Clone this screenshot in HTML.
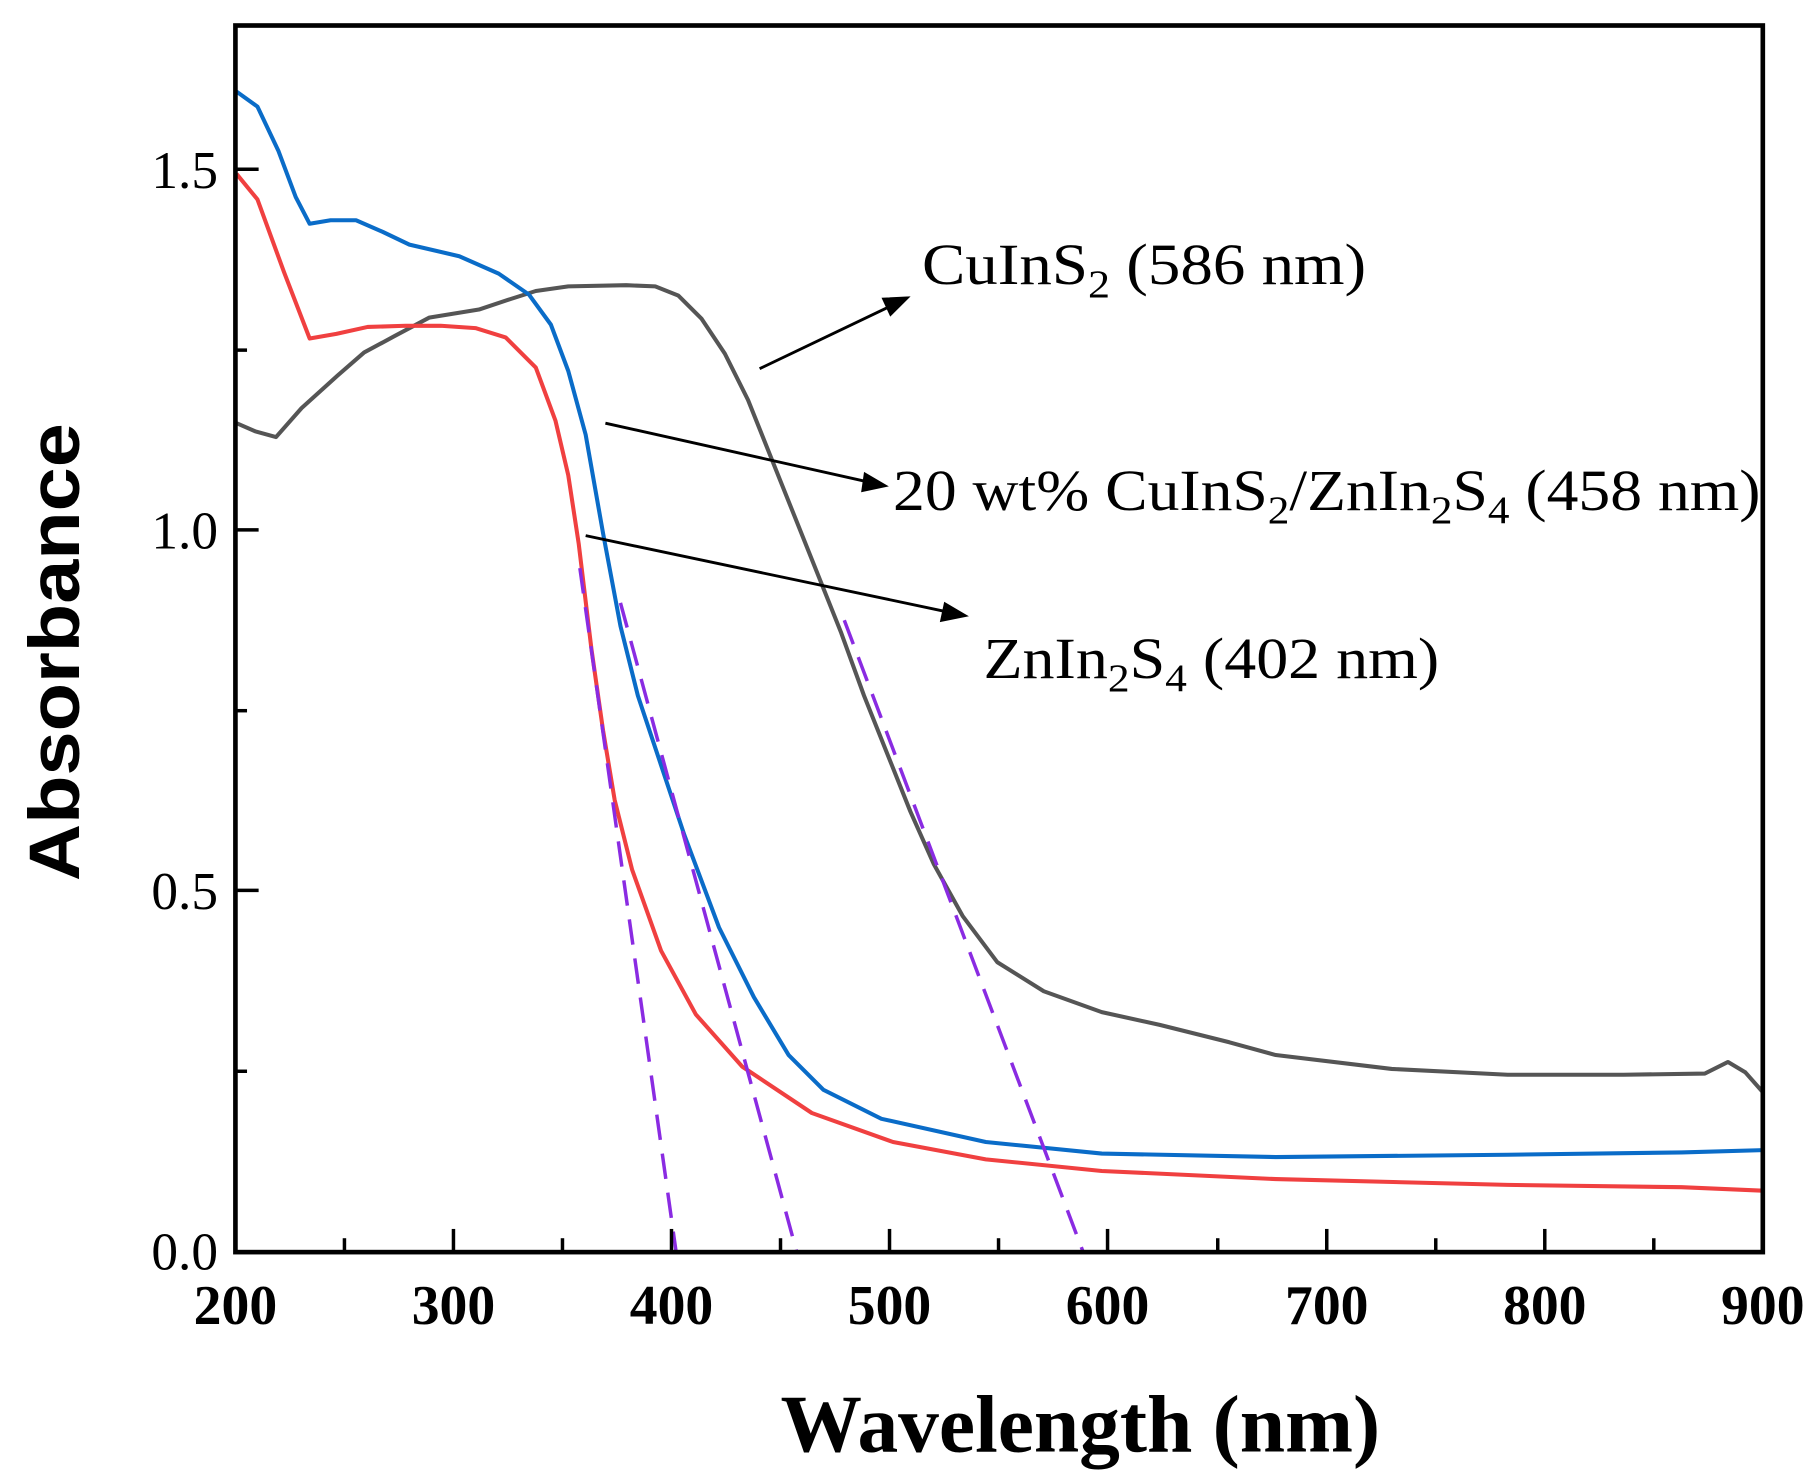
<!DOCTYPE html>
<html><head><meta charset="utf-8"><style>html,body{margin:0;padding:0;background:#fff}svg{display:block}</style></head><body>
<svg width="1815" height="1484" viewBox="0 0 1565 1280" preserveAspectRatio="none" xmlns="http://www.w3.org/2000/svg">
<g fill="none" stroke-width="3.5" stroke-linejoin="round">
<path stroke="#555" d="M204,365 L220,372 L238,377 L260,352 L291,324 L314,304 L340,290 L370,274 L413,267 L440,258 L462,251 L490,247 L540,246 L565,247 L585,255 L605,275 L625,305 L645,345 L665,395 L685,445 L705,495 L725,545 L745,600 L765,650 L785,700 L805,745 L830,790 L860,830 L900,855 L950,873 L1000,884 L1060,899 L1100,910 L1200,922 L1300,927 L1400,927 L1470,926 L1490,916 L1505,925 L1520,942"/>
<path stroke="#0a6cc8" d="M204,79 L222,92 L240,130 L255,170 L267,193 L285,190 L307,190 L330,200 L353,211 L396,221 L430,236 L456,254 L475,280 L490,320 L505,375 L520,460 L535,540 L550,600 L570,660 L590,720 L620,800 L650,860 L680,910 L710,940 L760,965 L850,985 L950,995 L1100,998 L1300,996 L1450,994 L1520,992"/>
<path stroke="#f04040" d="M204,150 L222,172 L245,235 L267,292 L290,288 L317,282 L350,281 L380,281 L410,283 L436,291 L462,317 L479,363 L490,410 L499,469 L510,560 L520,630 L530,690 L545,750 L570,820 L600,875 L640,920 L700,960 L770,985 L850,1000 L950,1010 L1100,1017 L1300,1022 L1450,1024 L1520,1027"/>
<g stroke="#8a2be2" stroke-width="3" stroke-dasharray="22,12"><line x1="500" y1="490" x2="583" y2="1080"/><line x1="535" y1="520" x2="687" y2="1080"/><line x1="728" y1="535" x2="934" y2="1080"/></g>
</g>
<g stroke="#000" stroke-width="2.5">
<line x1="655" y1="318" x2="770" y2="263"/><path d="M782,257 L762,258 L768,271 Z" fill="#000"/>
<line x1="522" y1="365" x2="750" y2="416"/><path d="M763,419 L746,409 L744,423 Z" fill="#000"/>
<line x1="505" y1="462" x2="818" y2="528"/><path d="M832,531 L815,521 L812,535 Z" fill="#000"/>
</g>
<g font-family="Liberation Serif, serif" font-size="50" fill="#000">
<text x="795" y="245" textLength="383" lengthAdjust="spacingAndGlyphs">CuInS<tspan font-size="34" dy="11">2</tspan><tspan dy="-11"> (586 nm)</tspan></text>
<text x="770" y="440" textLength="748" lengthAdjust="spacingAndGlyphs">20 wt% CuInS<tspan font-size="34" dy="11">2</tspan><tspan dy="-11">/ZnIn</tspan><tspan font-size="34" dy="11">2</tspan><tspan dy="-11">S</tspan><tspan font-size="34" dy="11">4</tspan><tspan dy="-11"> (458 nm)</tspan></text>
<text x="848" y="585" textLength="393" lengthAdjust="spacingAndGlyphs">ZnIn<tspan font-size="34" dy="11">2</tspan><tspan dy="-11">S</tspan><tspan font-size="34" dy="11">4</tspan><tspan dy="-11"> (402 nm)</tspan></text>
</g>
<rect x="203" y="22" width="1317" height="1058" fill="none" stroke="#000" stroke-width="4"/>
<g stroke="#000" stroke-width="3">
<line x1="203" y1="768" x2="223" y2="768"/><line x1="203" y1="457" x2="223" y2="457"/><line x1="203" y1="146" x2="223" y2="146"/>
<line x1="203" y1="924" x2="213" y2="924"/><line x1="203" y1="613" x2="213" y2="613"/><line x1="203" y1="302" x2="213" y2="302"/>
<line x1="391" y1="1080" x2="391" y2="1060"/><line x1="579" y1="1080" x2="579" y2="1060"/><line x1="767" y1="1080" x2="767" y2="1060"/><line x1="955" y1="1080" x2="955" y2="1060"/><line x1="1144" y1="1080" x2="1144" y2="1060"/><line x1="1332" y1="1080" x2="1332" y2="1060"/>
<line x1="297" y1="1080" x2="297" y2="1068"/><line x1="485" y1="1080" x2="485" y2="1068"/><line x1="673" y1="1080" x2="673" y2="1068"/><line x1="861" y1="1080" x2="861" y2="1068"/><line x1="1050" y1="1080" x2="1050" y2="1068"/><line x1="1238" y1="1080" x2="1238" y2="1068"/><line x1="1426" y1="1080" x2="1426" y2="1068"/>
</g>
<g font-family="Liberation Serif, serif" font-size="48" font-weight="bold" fill="#000" text-anchor="middle">
<text x="203" y="1142">200</text><text x="391" y="1142">300</text><text x="579" y="1142">400</text><text x="767" y="1142">500</text><text x="955" y="1142">600</text><text x="1144" y="1142">700</text><text x="1332" y="1142">800</text><text x="1520" y="1142">900</text>
</g>
<g font-family="Liberation Serif, serif" font-size="46" fill="#000" text-anchor="end">
<text x="188" y="1095">0.0</text><text x="188" y="784">0.5</text><text x="188" y="473">1.0</text><text x="188" y="162">1.5</text>
</g>
<text x="673" y="1252" font-family="Liberation Serif, serif" font-size="70" font-weight="bold" textLength="517" lengthAdjust="spacingAndGlyphs">Wavelength (nm)</text>
<text transform="translate(68,760) rotate(-90)" font-family="Liberation Sans, sans-serif" font-size="62" font-weight="bold" textLength="395" lengthAdjust="spacingAndGlyphs">Absorbance</text>
</svg>
</body></html>
